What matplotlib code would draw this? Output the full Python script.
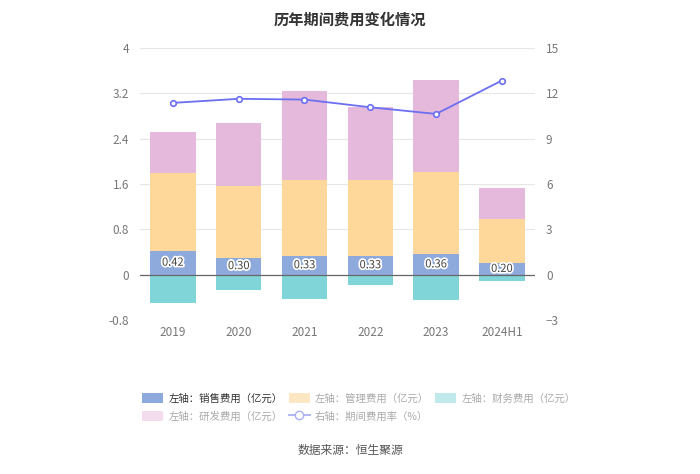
import numpy as np
import matplotlib.pyplot as plt
import matplotlib.patheffects as pe
from matplotlib.lines import Line2D
from matplotlib.patches import Patch

plt.rcParams['font.family'] = ['Noto Sans CJK SC', 'DejaVu Sans']

years = ['2019', '2020', '2021', '2022', '2023', '2024H1']
sales = [0.42, 0.30, 0.33, 0.33, 0.36, 0.20]       # 销售费用
admin = [1.38, 1.27, 1.345, 1.345, 1.456, 0.78]    # 管理费用
finance = [-0.50, -0.265, -0.423, -0.188, -0.44, -0.117]  # 财务费用
rnd = [0.72, 1.11, 1.565, 1.275, 1.61, 0.55]       # 研发费用
rate = [11.36, 11.63, 11.58, 11.07, 10.63, 12.84]  # 期间费用率

c_sales = '#8eaadc'
c_admin = '#fdd89a'
c_fin = '#80d5d8'
c_rnd = '#e5b9db'
c_line = '#6b6ff0'

fig = plt.figure(figsize=(7, 4.74), dpi=100)
ax = fig.add_axes([0.2, 0.325, 0.564, 0.574])
ax2 = ax.twinx()

x = np.arange(len(years))
w = 0.69
sales = np.array(sales)
admin = np.array(admin)
ax.bar(x, sales, w, color=c_sales, zorder=2)
ax.bar(x, admin, w, bottom=sales, color=c_admin, zorder=2)
ax.bar(x, rnd, w, bottom=sales + admin, color=c_rnd, zorder=2)
ax.bar(x, finance, w, color=c_fin, zorder=2)

for xi, v in zip(x, sales):
    ax.text(xi, v / 2, f'{v:.2f}', ha='center', va='center', fontsize=8,
            color='#444444', zorder=5,
            path_effects=[pe.withStroke(linewidth=2.5, foreground='white')])

ax.set_ylim(-0.8, 4)
ax.set_yticks([-0.8, 0, 0.8, 1.6, 2.4, 3.2, 4])
ax.set_yticklabels(['-0.8', '0', '0.8', '1.6', '2.4', '3.2', '4'])
ax.set_xlim(-0.5, len(years) - 0.5)
ax.set_xticks(x)
ax.set_xticklabels(years)
ax.grid(axis='y', color='#e6e6e6', linewidth=0.8, zorder=0)
ax.axhline(0, color='#666666', linewidth=0.9, zorder=3)

ax2.plot(x, rate, color=c_line, linewidth=1.3, marker='o', markersize=4,
         markerfacecolor='white', markeredgecolor=c_line, markeredgewidth=1.2, zorder=4)
ax2.set_ylim(-3, 15)
ax2.set_yticks([-3, 0, 3, 6, 9, 12, 15])

for a in (ax, ax2):
    for s in a.spines.values():
        s.set_visible(False)
    a.tick_params(length=0, labelsize=8.5, colors='#777777')
ax.tick_params(axis='y', pad=8)
ax2.tick_params(axis='y', pad=8)
ax.tick_params(axis='x', pad=4)

fig.text(0.5, 0.975, '历年期间费用变化情况', ha='center', va='top',
         fontsize=11, fontweight='bold', color='#333333')

h_sales = Patch(facecolor=c_sales, edgecolor='none')
h_admin = Patch(facecolor='#fde6c2', edgecolor='none')
h_fin = Patch(facecolor='#bfe9ea', edgecolor='none')
h_rnd = Patch(facecolor='#f2dcee', edgecolor='none')
h_rate = Line2D([0], [0], color='#aab0f5', marker='o', markersize=6,
                markerfacecolor='white', markeredgecolor='#aab0f5', linewidth=1.3)
# matplotlib fills legend column by column, so order for 2 rows x 3 columns
handles = [h_sales, h_rnd, h_admin, h_rate, h_fin]
labels = ['左轴：销售费用（亿元）', '左轴：研发费用（亿元）', '左轴：管理费用（亿元）',
          '右轴：期间费用率（%）', '左轴：财务费用（亿元）']
leg = fig.legend(handles, labels, loc='upper left', bbox_to_anchor=(0.19, 0.19),
                 ncol=3, frameon=False, fontsize=7.5, handlelength=2.0, handleheight=1.1,
                 columnspacing=0.6, handletextpad=0.5, labelspacing=0.7)
for i, t in enumerate(leg.get_texts()):
    t.set_color('#333333' if i == 0 else '#aaaaaa')

fig.text(0.5, 0.035, '数据来源：恒生聚源', ha='center', va='bottom',
         fontsize=8.5, color='#555555')

fig.savefig('out.png', dpi=100)
